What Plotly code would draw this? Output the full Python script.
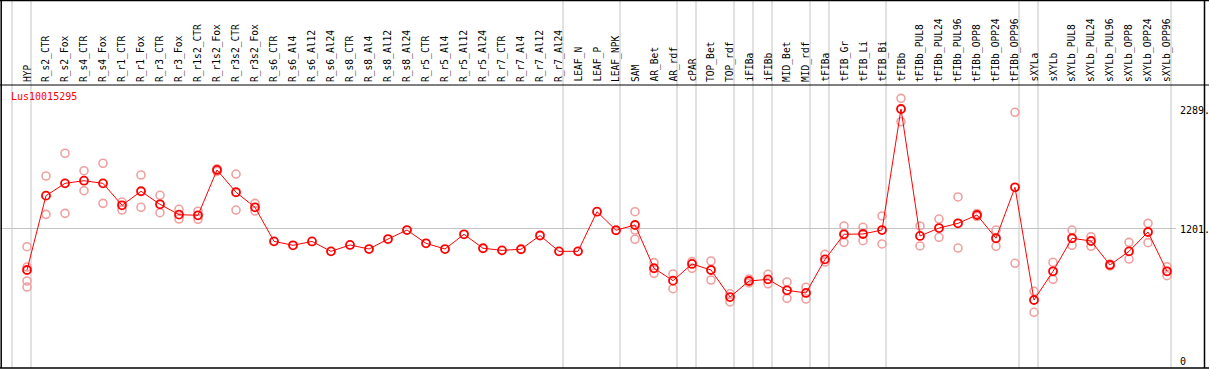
import plotly.graph_objects as go

categories = [
    "HYP", "R_s2_CTR", "R_s2_Fox", "R_s4_CTR", "R_s4_Fox", "R_r1_CTR", "R_r1_Fox",
    "R_r3_CTR", "R_r3_Fox", "R_r1s2_CTR", "R_r1s2_Fox", "R_r3s2_CTR", "R_r3s2_Fox",
    "R_s6_CTR", "R_s6_Al4", "R_s6_Al12", "R_s6_Al24", "R_s8_CTR", "R_s8_Al4",
    "R_s8_Al12", "R_s8_Al24", "R_r5_CTR", "R_r5_Al4", "R_r5_Al12", "R_r5_Al24",
    "R_r7_CTR", "R_r7_Al4", "R_r7_Al12", "R_r7_Al24", "LEAF_N", "LEAF_P", "LEAF_NPK",
    "SAM", "AR_Bet", "AR_rdf", "cPAR", "TOP_Bet", "TOP_rdf", "iFIBa", "iFIBb",
    "MID_Bet", "MID_rdf", "tFIBa", "tFIB_Gr", "tFIB_Li", "tFIB_Bi", "tFIBb",
    "tFIBb_PUL8", "tFIBb_PUL24", "tFIBb_PUL96", "tFIBb_OPP8", "tFIBb_OPP24",
    "tFIBb_OPP96", "sXYLa", "sXYLb", "sXYLb_PUL8", "sXYLb_PUL24", "sXYLb_PUL96",
    "sXYLb_OPP8", "sXYLb_OPP24", "sXYLb_OPP96",
]

means = [
    823, 1500, 1612, 1636, 1612, 1412, 1540, 1421, 1327, 1321, 1734, 1531, 1394,
    1084, 1048, 1083, 993, 1051, 1014, 1105, 1187, 1066, 1014, 1148, 1021,
    1002, 1012, 1137, 993, 993, 1354, 1185,
    1233, 839, 726, 878, 823, 577, 723, 738, 638, 614, 920, 1148, 1151, 1187,
    2289, 1133, 1205, 1248, 1324, 1112, 1576,
    550, 811, 1112, 1087, 869, 993, 1169, 811,
]

replicates = [
    [1035, 850, 723, 668], [1679, 1330], [1886, 1339], [1727, 1545], [1795, 1430],
    [1442, 1369], [1688, 1394], [1503, 1345], [1376, 1287], [1358, 1285],
    [1745, 1722], [1697, 1369], [1430, 1360],
    [], [], [], [], [], [], [], [], [], [], [], [], [], [], [], [], [], [], [],
    [1354, 1187, 1103], [890, 793], [787, 653], [899, 839], [905, 732], [607, 532],
    [741, 705], [784, 698], [714, 565], [666, 559], [966, 896], [1224, 1075],
    [1212, 1090], [1315, 1060],
    [2386, 2173], [1224, 1042], [1287, 1121], [1488, 1023], [1338, 1310],
    [1187, 1039], [2259, 884],
    [629, 438], [893, 738], [1187, 1048], [1126, 1039], [878, 860], [1075, 923],
    [1248, 1072], [853, 771],
]

group_sizes = [1, 28, 3, 3, 1, 2, 1, 1, 2, 1, 3, 7, 1, 7]
ytick_vals = [0, 1201, 2289]
ytick_text = ["0", "1201.", "2289."]
gene_name = "Lus10015295"

MONO = "DejaVu Sans Mono"
RED = "#ff0000"
PINK = "#f0a0a0"
GRID = "#c4c4c4"

n = len(categories)
xs = list(range(n))

rep_x, rep_y = [], []
for i, reps in enumerate(replicates):
    for v in reps:
        rep_x.append(i)
        rep_y.append(v)

fig = go.Figure()
fig.add_trace(go.Scatter(
    x=rep_x, y=rep_y, mode="markers",
    marker=dict(symbol="circle-open", size=8, color=PINK, line=dict(width=1.6, color=PINK)),
    hoverinfo="skip", showlegend=False,
))
fig.add_trace(go.Scatter(
    x=xs, y=means, mode="lines+markers",
    line=dict(color=RED, width=1),
    marker=dict(symbol="circle-open", size=8, color=RED, line=dict(width=1.8, color=RED)),
    showlegend=False,
))

shapes = []
ends = [-1]
acc = -1
for g in group_sizes:
    acc += g
    ends.append(acc)
off = 4.0 / 19.0
for e in ends:
    shapes.append(dict(type="line", xref="x", yref="paper", x0=e + off, x1=e + off,
                       y0=0, y1=1.305, line=dict(color=GRID, width=1), layer="below"))
shapes.append(dict(type="line", xref="x", yref="y", x0=-1.5, x1=60.47,
                   y0=ytick_vals[1], y1=ytick_vals[1], line=dict(color=GRID, width=1.2),
                   layer="below"))
top_p = 368.0 / 283.0
frame = dict(color="black", width=1.5)
shapes += [
    dict(type="line", xref="paper", yref="paper", x0=0, x1=1, y0=top_p - 0.002, y1=top_p - 0.002, line=frame),
    dict(type="line", xref="paper", yref="paper", x0=0, x1=1, y0=1.0, y1=1.0, line=dict(color="black", width=1)),
    dict(type="line", xref="paper", yref="paper", x0=0, x1=1, y0=0, y1=0, line=frame),
    dict(type="line", xref="paper", yref="paper", x0=0.001, x1=0.001, y0=0, y1=top_p, line=frame),
    dict(type="line", xref="paper", yref="paper", x0=1204.5 / 1209, x1=1204.5 / 1209, y0=0, y1=top_p, line=frame),
]

annotations = []
for i, c in enumerate(categories):
    annotations.append(dict(
        x=i, y=(368 - 84) / 283.0, xref="x", yref="paper", text=c, textangle=-90,
        xanchor="center", yanchor="bottom", showarrow=False,
        font=dict(family=MONO, size=9.6, color="black"),
    ))
for v, t in zip(ytick_vals, ytick_text):
    annotations.append(dict(
        x=60.58, y=v, xref="x", yref="y", text=t, xanchor="left", yanchor="middle",
        showarrow=False, yshift=-1, font=dict(family=MONO, size=10, color="black"),
    ))
annotations.append(dict(
    x=9 / 1209, y=(368 - 97) / 283.0, xref="paper", yref="paper", text=gene_name,
    xanchor="left", yanchor="middle", showarrow=False,
    font=dict(family=MONO, size=10, color=RED),
))

fig.update_layout(
    width=1209, height=370,
    margin=dict(l=0, r=0, t=85, b=2, pad=0),
    paper_bgcolor="white", plot_bgcolor="white",
    xaxis=dict(range=[-27 / 19.0, 1182 / 19.0], visible=False, fixedrange=True),
    yaxis=dict(range=[-69.2, 2507.5], visible=False, fixedrange=True),
    shapes=shapes, annotations=annotations, showlegend=False,
)

fig.write_html(
    "out.html",
    config={"displayModeBar": False},
    post_script="document.body.style.margin='0';document.body.style.overflow='hidden';",
)
